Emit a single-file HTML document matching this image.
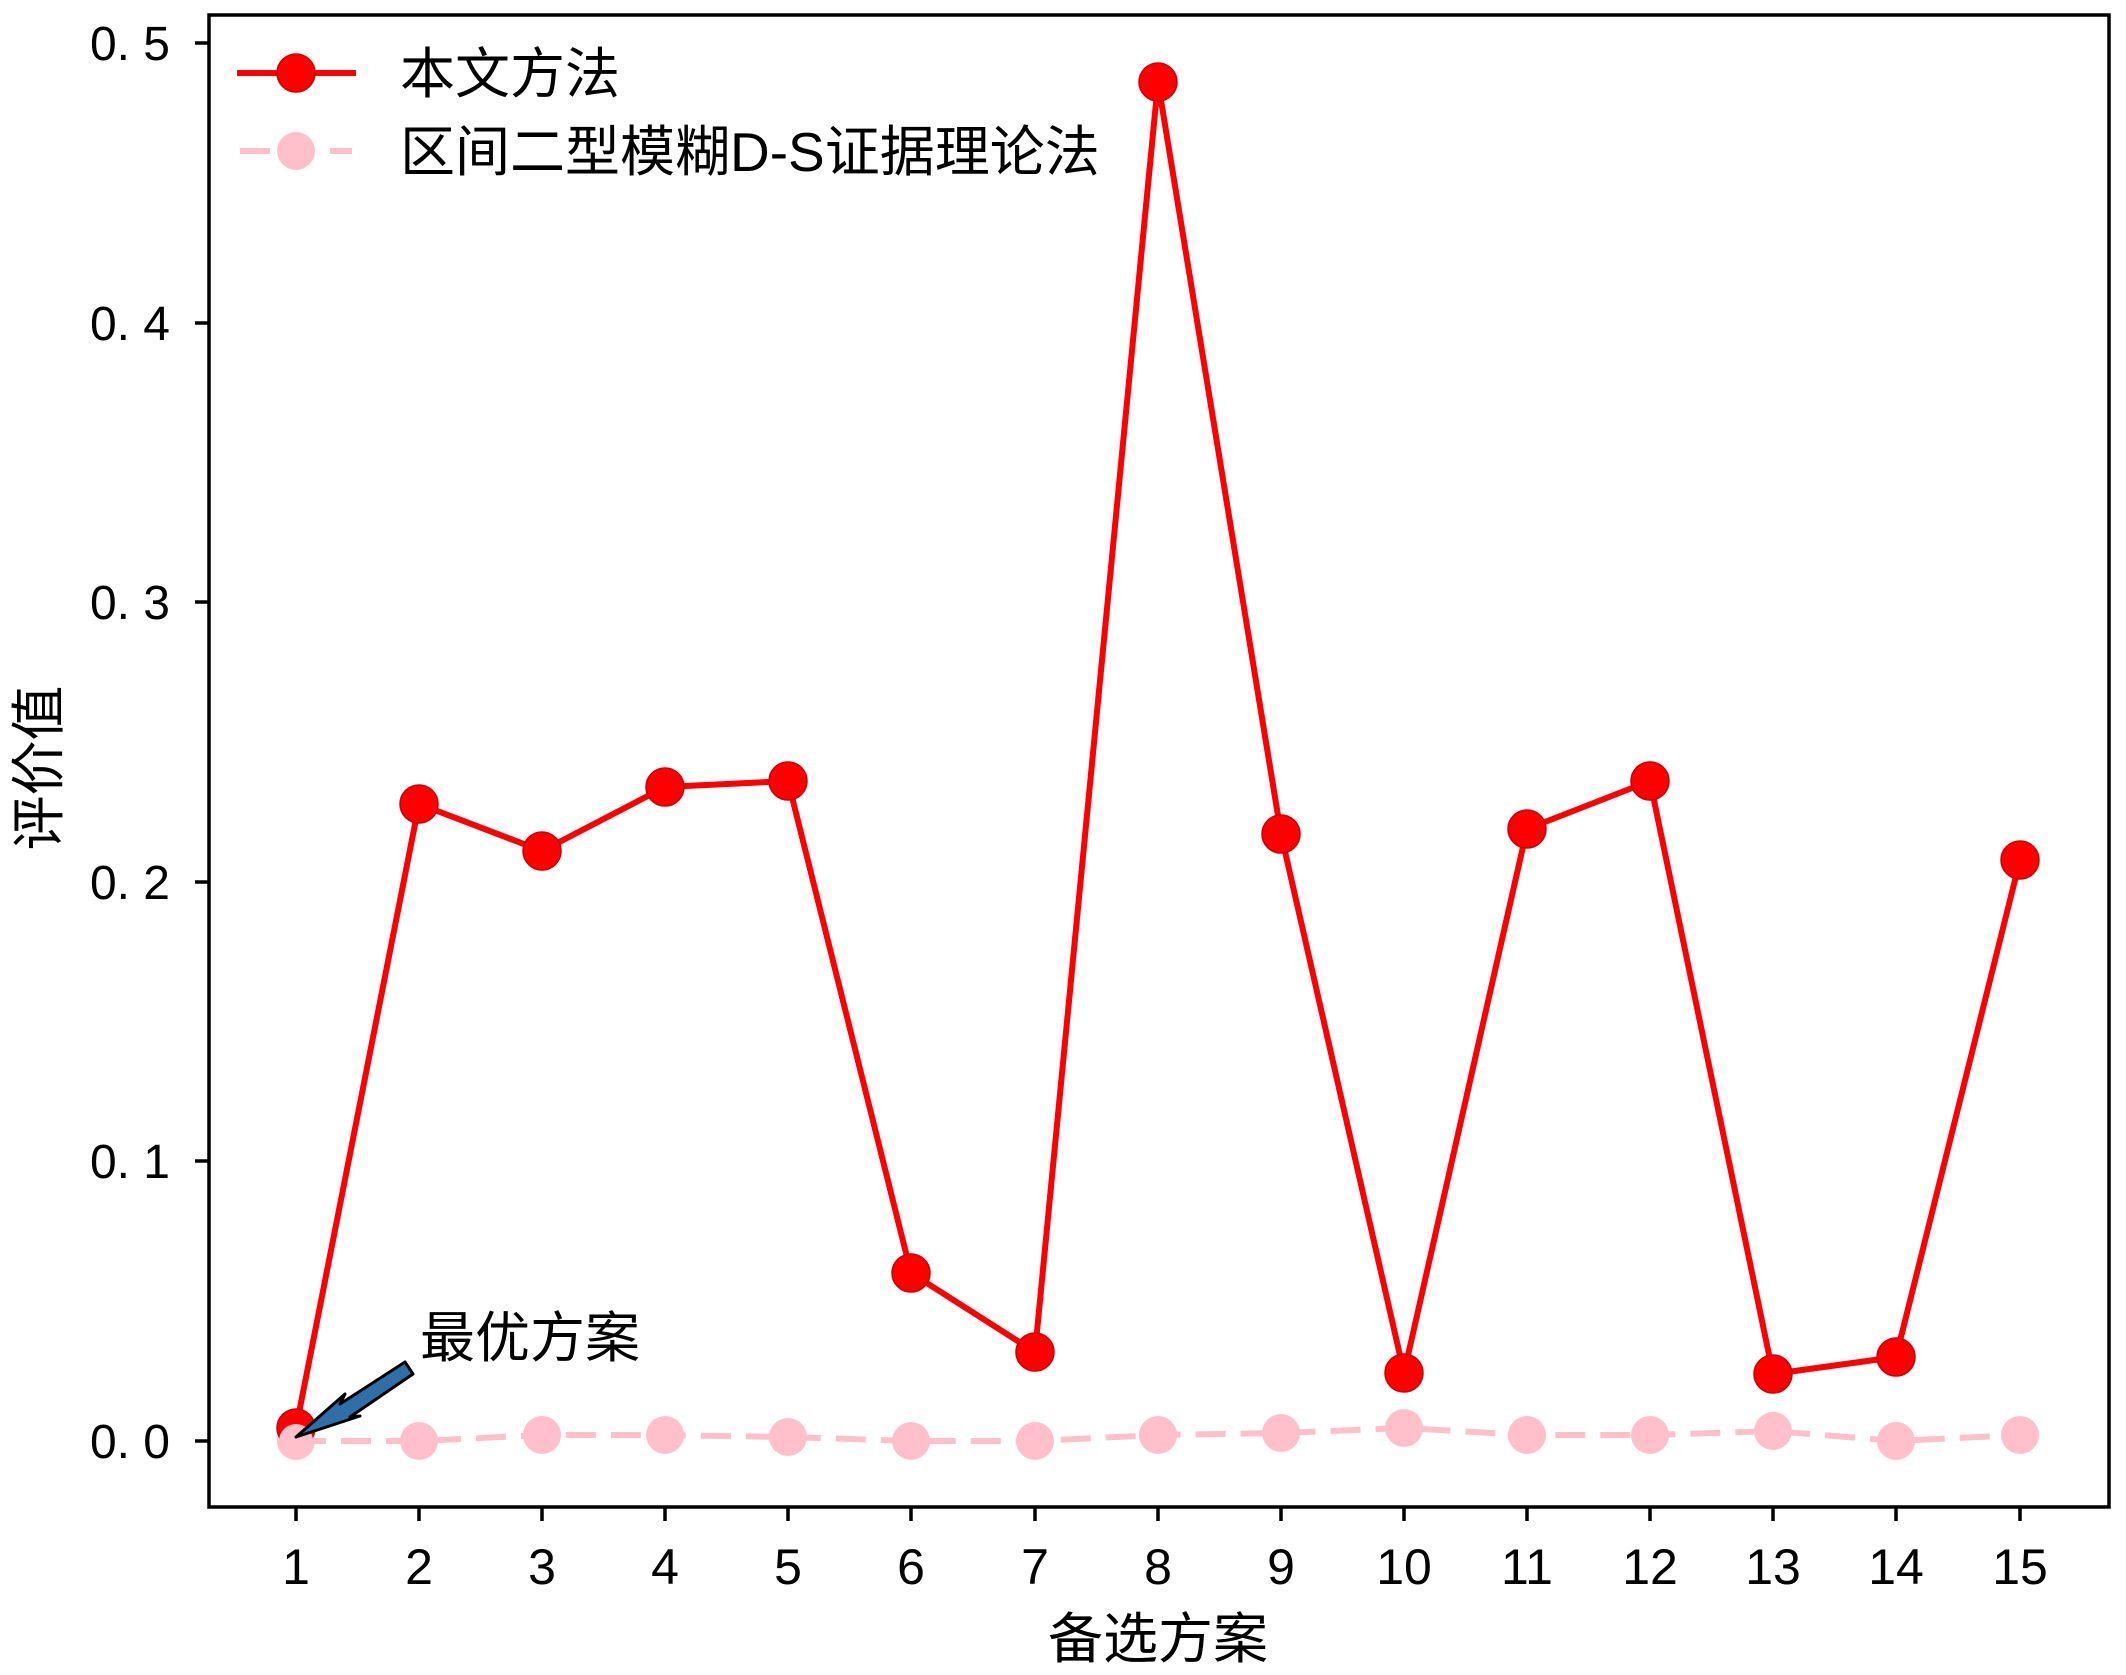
<!DOCTYPE html>
<html><head><meta charset="utf-8"><style>
html,body{margin:0;padding:0;background:#fff;}
svg{display:block;}
text{font-family:"Liberation Sans","Noto Sans CJK SC",sans-serif;fill:#000;}
</style></head><body>
<svg width="2126" height="1675" viewBox="0 0 2126 1675" xmlns="http://www.w3.org/2000/svg">
<rect width="2126" height="1675" fill="#fff"/>
<polyline fill="none" stroke="#FFC0CB" stroke-width="6" stroke-dasharray="30,15"
 points="296,1441 419,1441 542,1435 665,1435 788,1437 911,1441 1035,1441 1158,1435 1281,1433 1404,1428 1527,1435 1650,1435 1773,1431 1896,1441 2020,1435"/>
<g fill="#FFC0CB">
<circle cx="296" cy="1441" r="19"/><circle cx="419" cy="1441" r="19"/><circle cx="542" cy="1435" r="19"/>
<circle cx="665" cy="1435" r="19"/><circle cx="788" cy="1437" r="19"/><circle cx="911" cy="1441" r="19"/>
<circle cx="1035" cy="1441" r="19"/><circle cx="1158" cy="1435" r="19"/><circle cx="1281" cy="1433" r="19"/>
<circle cx="1404" cy="1428" r="19"/><circle cx="1527" cy="1435" r="19"/><circle cx="1650" cy="1435" r="19"/>
<circle cx="1773" cy="1431" r="19"/><circle cx="1896" cy="1441" r="19"/><circle cx="2020" cy="1435" r="19"/>
</g>
<polyline fill="none" stroke="#f00" stroke-width="6" stroke-linejoin="round"
 points="296,1428 419,804 542,851 665,787 788,781 911,1273 1035,1352 1158,82 1281,834 1404,1373 1527,829 1650,781 1773,1374 1896,1357 2020,860"/>
<g fill="#f00" stroke="#c00" stroke-width="1.5">
<circle cx="296" cy="1428" r="19"/><circle cx="419" cy="804" r="19"/><circle cx="542" cy="851" r="19"/>
<circle cx="665" cy="787" r="19"/><circle cx="788" cy="781" r="19"/><circle cx="911" cy="1273" r="19"/>
<circle cx="1035" cy="1352" r="19"/><circle cx="1158" cy="82" r="19"/><circle cx="1281" cy="834" r="19"/>
<circle cx="1404" cy="1373" r="19"/><circle cx="1527" cy="829" r="19"/><circle cx="1650" cy="781" r="19"/>
<circle cx="1773" cy="1374" r="19"/><circle cx="1896" cy="1357" r="19"/><circle cx="2020" cy="860" r="19"/>
</g>
<circle cx="296" cy="1441" r="17" fill="#FFC0CB"/>
<polygon points="296,1437 345,1394 340,1404 405,1362 413,1374 350,1417 360,1416" fill="#2f6fa8" stroke="#000" stroke-width="3" stroke-linejoin="round"/>
<text x="420" y="1357" font-size="55">最优方案</text>
<rect x="209" y="15" width="1900" height="1492" fill="none" stroke="#000" stroke-width="3.5"/>
<g stroke="#000" stroke-width="3.5">
<line x1="195" y1="1441" x2="209" y2="1441"/><line x1="195" y1="1161" x2="209" y2="1161"/>
<line x1="195" y1="882" x2="209" y2="882"/><line x1="195" y1="602" x2="209" y2="602"/>
<line x1="195" y1="323" x2="209" y2="323"/><line x1="195" y1="43" x2="209" y2="43"/>
</g>
<g font-size="48" text-anchor="end">
<text x="170" y="1458">0. 0</text><text x="170" y="1178">0. 1</text><text x="170" y="899">0. 2</text>
<text x="170" y="619">0. 3</text><text x="170" y="340">0. 4</text><text x="170" y="60">0. 5</text>
</g>
<g stroke="#000" stroke-width="3.5">
<line x1="296" y1="1507" x2="296" y2="1521"/><line x1="419" y1="1507" x2="419" y2="1521"/>
<line x1="542" y1="1507" x2="542" y2="1521"/><line x1="665" y1="1507" x2="665" y2="1521"/>
<line x1="788" y1="1507" x2="788" y2="1521"/><line x1="911" y1="1507" x2="911" y2="1521"/>
<line x1="1035" y1="1507" x2="1035" y2="1521"/><line x1="1158" y1="1507" x2="1158" y2="1521"/>
<line x1="1281" y1="1507" x2="1281" y2="1521"/><line x1="1404" y1="1507" x2="1404" y2="1521"/>
<line x1="1527" y1="1507" x2="1527" y2="1521"/><line x1="1650" y1="1507" x2="1650" y2="1521"/>
<line x1="1773" y1="1507" x2="1773" y2="1521"/><line x1="1896" y1="1507" x2="1896" y2="1521"/>
<line x1="2020" y1="1507" x2="2020" y2="1521"/>
</g>
<g font-size="50" text-anchor="middle">
<text x="296" y="1584">1</text><text x="419" y="1584">2</text><text x="542" y="1584">3</text>
<text x="665" y="1584">4</text><text x="788" y="1584">5</text><text x="911" y="1584">6</text>
<text x="1035" y="1584">7</text><text x="1158" y="1584">8</text><text x="1281" y="1584">9</text>
<text x="1404" y="1584">10</text><text x="1527" y="1584">11</text><text x="1650" y="1584">12</text>
<text x="1773" y="1584">13</text><text x="1896" y="1584">14</text><text x="2020" y="1584">15</text>
</g>
<text x="1158" y="1658" font-size="55" text-anchor="middle">备选方案</text>
<text transform="translate(58,768) rotate(-90)" font-size="55" text-anchor="middle">评价值</text>
<line x1="237" y1="73" x2="356" y2="73" stroke="#f00" stroke-width="6"/>
<circle cx="296" cy="73" r="19" fill="#f00" stroke="#c00" stroke-width="1.5"/>
<text x="400" y="93" font-size="55">本文方法</text>
<line x1="240" y1="151" x2="270" y2="151" stroke="#FFC0CB" stroke-width="6"/>
<line x1="330" y1="151" x2="352" y2="151" stroke="#FFC0CB" stroke-width="6"/>
<circle cx="296" cy="151" r="19" fill="#FFC0CB"/>
<text x="400" y="171" font-size="55">区间二型模糊D-S证据理论法</text>
</svg>
</body></html>
